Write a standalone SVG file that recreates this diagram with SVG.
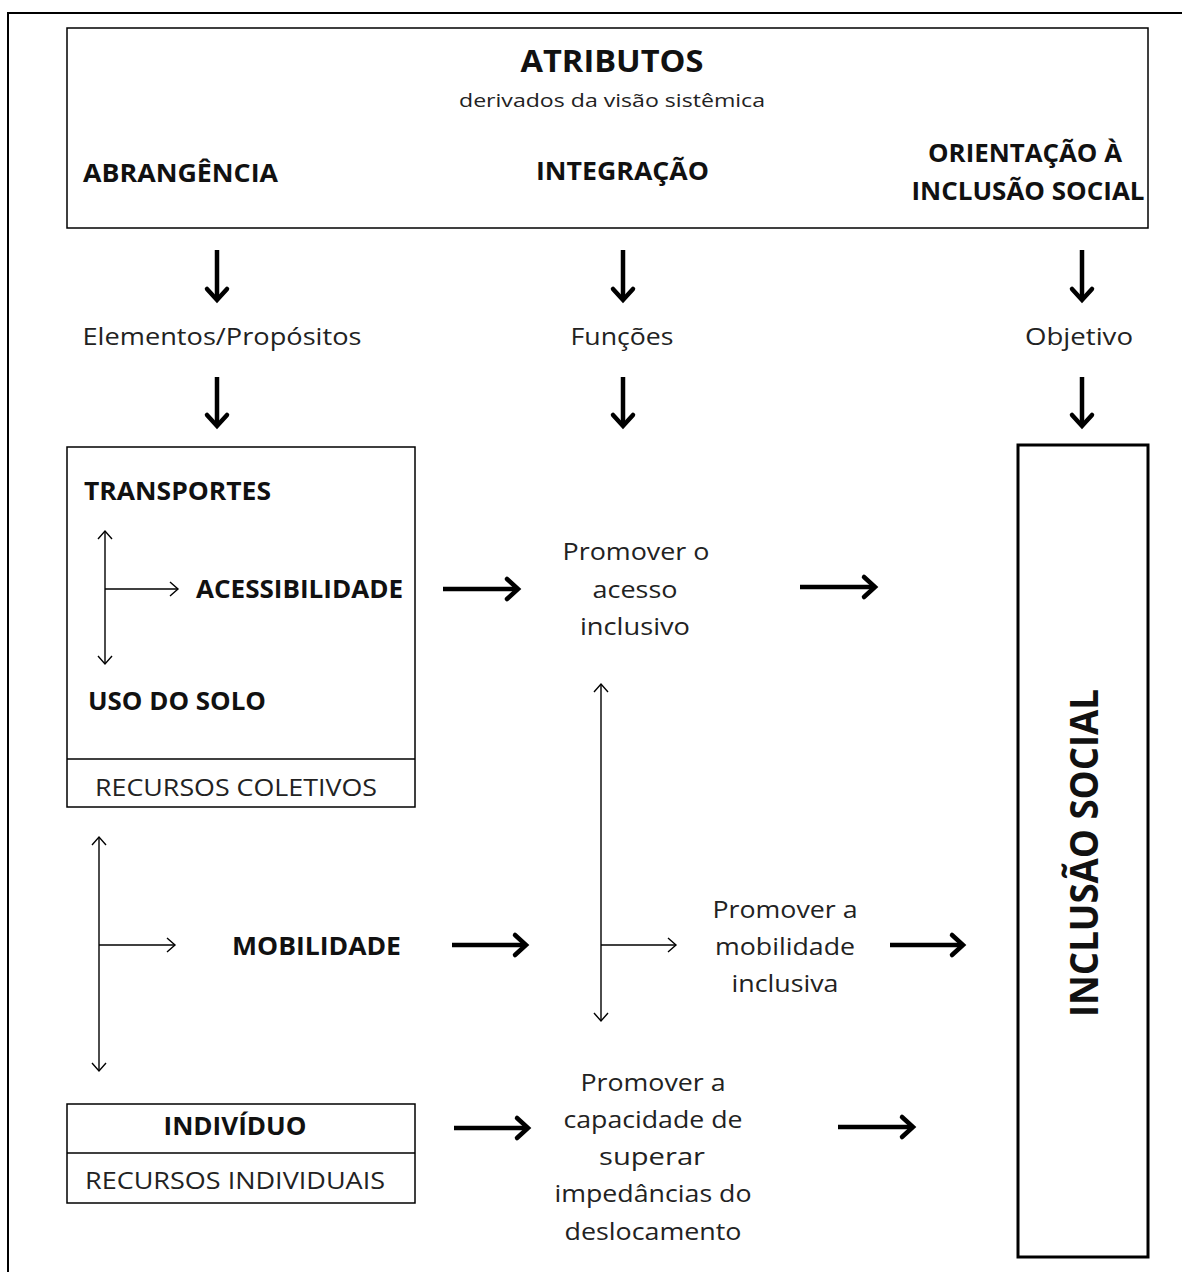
<svg xmlns="http://www.w3.org/2000/svg" width="1182" height="1272" viewBox="0 0 1182 1272">
<style>
.box{fill:#fff;stroke:#000;stroke-width:1.5}
.boxb{fill:#fff;stroke:#000;stroke-width:3}
.b{font-family:"Open Sans","Liberation Sans",sans-serif;font-weight:bold;fill:#111}
.r{font-family:"Open Sans","Liberation Sans",sans-serif;fill:#222}
.thick{stroke:#000;stroke-width:4.5;fill:none}
.thin{stroke:#000;stroke-width:1.4;fill:none}
</style>
<defs>
<marker id="hT" markerUnits="userSpaceOnUse" markerWidth="20" markerHeight="28" refX="14" refY="12" orient="auto" overflow="visible">
<path d="M3,2 L14,12 L3,22" fill="none" stroke="#000" stroke-width="4.5" stroke-linecap="round"/>
</marker>
<marker id="ht" markerUnits="userSpaceOnUse" markerWidth="14" markerHeight="18" refX="9" refY="8" orient="auto-start-reverse" overflow="visible">
<path d="M1,1 L9,8 L1,15" fill="none" stroke="#000" stroke-width="1.4"/>
</marker>
</defs>
<rect x="0" y="0" width="1182" height="1272" fill="#fff"/>
<rect x="8" y="13" width="1190" height="1280" fill="none" stroke="#000" stroke-width="2"/>

<g id="atributos">
<rect class="box" x="67" y="28" width="1081" height="200"/>
<text class="b" x="612" y="72" font-size="31" text-anchor="middle" textLength="183" lengthAdjust="spacingAndGlyphs">ATRIBUTOS</text>
<text class="r" x="612" y="107" font-size="19" text-anchor="middle" textLength="306" lengthAdjust="spacingAndGlyphs">derivados da visão sistêmica</text>
<text class="b" x="83" y="182" font-size="25" textLength="195" lengthAdjust="spacingAndGlyphs">ABRANGÊNCIA</text>
<text class="b" x="536" y="180" font-size="25" textLength="173" lengthAdjust="spacingAndGlyphs">INTEGRAÇÃO</text>
<text class="b" x="1025" y="162" font-size="25" text-anchor="middle" textLength="194" lengthAdjust="spacingAndGlyphs">ORIENTAÇÃO À</text>
<text class="b" x="1028" y="200" font-size="25" text-anchor="middle" textLength="233" lengthAdjust="spacingAndGlyphs">INCLUSÃO SOCIAL</text>
</g>

<g id="label-elementos"><text class="r" x="222" y="345" font-size="24" text-anchor="middle" textLength="279" lengthAdjust="spacingAndGlyphs">Elementos/Propósitos</text></g>
<g id="label-funcoes"><text class="r" x="622" y="345" font-size="24" text-anchor="middle" textLength="103" lengthAdjust="spacingAndGlyphs">Funções</text></g>
<g id="label-objetivo"><text class="r" x="1079" y="345" font-size="24" text-anchor="middle" textLength="108" lengthAdjust="spacingAndGlyphs">Objetivo</text></g>

<g id="recursos-coletivos">
<rect class="box" x="67" y="447" width="348" height="360"/>
<line class="box" x1="67" y1="759" x2="415" y2="759"/>
<text class="b" x="84" y="500" font-size="25" textLength="187" lengthAdjust="spacingAndGlyphs">TRANSPORTES</text>
<text class="b" x="196" y="598" font-size="25" textLength="207" lengthAdjust="spacingAndGlyphs">ACESSIBILIDADE</text>
<text class="b" x="88" y="710" font-size="25" textLength="178" lengthAdjust="spacingAndGlyphs">USO DO SOLO</text>
<text class="r" x="236" y="796" font-size="23" text-anchor="middle" textLength="282" lengthAdjust="spacingAndGlyphs">RECURSOS COLETIVOS</text>
</g>

<g id="promover-acesso">
<text class="r" x="636" y="560" font-size="24" text-anchor="middle" textLength="147" lengthAdjust="spacingAndGlyphs">Promover o</text>
<text class="r" x="635" y="598" font-size="24" text-anchor="middle" textLength="85" lengthAdjust="spacingAndGlyphs">acesso</text>
<text class="r" x="635" y="635" font-size="24" text-anchor="middle" textLength="110" lengthAdjust="spacingAndGlyphs">inclusivo</text>
</g>

<g id="mobilidade"><text class="b" x="232" y="955" font-size="25" textLength="169" lengthAdjust="spacingAndGlyphs">MOBILIDADE</text></g>

<g id="promover-mobilidade">
<text class="r" x="785" y="918" font-size="24" text-anchor="middle" textLength="145" lengthAdjust="spacingAndGlyphs">Promover a</text>
<text class="r" x="785" y="955" font-size="24" text-anchor="middle" textLength="140" lengthAdjust="spacingAndGlyphs">mobilidade</text>
<text class="r" x="785" y="992" font-size="24" text-anchor="middle" textLength="107" lengthAdjust="spacingAndGlyphs">inclusiva</text>
</g>

<g id="individuo">
<rect class="box" x="67" y="1104" width="348" height="99"/>
<line class="box" x1="67" y1="1153" x2="415" y2="1153"/>
<text class="b" x="235" y="1135" font-size="25" text-anchor="middle" textLength="143" lengthAdjust="spacingAndGlyphs">INDIVÍDUO</text>
<text class="r" x="235" y="1189" font-size="23" text-anchor="middle" textLength="300" lengthAdjust="spacingAndGlyphs">RECURSOS INDIVIDUAIS</text>
</g>

<g id="promover-capacidade">
<text class="r" x="653" y="1091" font-size="24" text-anchor="middle" textLength="145" lengthAdjust="spacingAndGlyphs">Promover a</text>
<text class="r" x="653" y="1128" font-size="24" text-anchor="middle" textLength="179" lengthAdjust="spacingAndGlyphs">capacidade de</text>
<text class="r" x="652" y="1165" font-size="24" text-anchor="middle" textLength="106" lengthAdjust="spacingAndGlyphs">superar</text>
<text class="r" x="653" y="1202" font-size="24" text-anchor="middle" textLength="197" lengthAdjust="spacingAndGlyphs">impedâncias do</text>
<text class="r" x="653" y="1240" font-size="24" text-anchor="middle" textLength="177" lengthAdjust="spacingAndGlyphs">deslocamento</text>
</g>

<g id="inclusao-social">
<rect class="boxb" x="1018" y="445" width="130" height="812"/>
<text class="b" transform="translate(1098,853) rotate(-90)" x="0" y="0" font-size="40" text-anchor="middle" textLength="328" lengthAdjust="spacingAndGlyphs">INCLUSÃO SOCIAL</text>
</g>

<g id="connectors">
<line class="thick" x1="217" y1="250" x2="217" y2="300" marker-end="url(#hT)"/>
<line class="thick" x1="623" y1="250" x2="623" y2="300" marker-end="url(#hT)"/>
<line class="thick" x1="1082" y1="250" x2="1082" y2="300" marker-end="url(#hT)"/>
<line class="thick" x1="217" y1="377" x2="217" y2="426" marker-end="url(#hT)"/>
<line class="thick" x1="623" y1="377" x2="623" y2="426" marker-end="url(#hT)"/>
<line class="thick" x1="1082" y1="377" x2="1082" y2="426" marker-end="url(#hT)"/>
<line class="thick" x1="443" y1="589" x2="518" y2="589" marker-end="url(#hT)"/>
<line class="thick" x1="800" y1="587" x2="875" y2="587" marker-end="url(#hT)"/>
<line class="thick" x1="452" y1="945" x2="526" y2="945" marker-end="url(#hT)"/>
<line class="thick" x1="890" y1="945" x2="963" y2="945" marker-end="url(#hT)"/>
<line class="thick" x1="454" y1="1128" x2="528" y2="1128" marker-end="url(#hT)"/>
<line class="thick" x1="838" y1="1127" x2="913" y2="1127" marker-end="url(#hT)"/>
<line class="thin" x1="105" y1="531" x2="105" y2="664" marker-start="url(#ht)" marker-end="url(#ht)"/>
<line class="thin" x1="105" y1="589" x2="178" y2="589" marker-end="url(#ht)"/>
<line class="thin" x1="99" y1="837" x2="99" y2="1071" marker-start="url(#ht)" marker-end="url(#ht)"/>
<line class="thin" x1="99" y1="945" x2="175" y2="945" marker-end="url(#ht)"/>
<line class="thin" x1="601" y1="684" x2="601" y2="1021" marker-start="url(#ht)" marker-end="url(#ht)"/>
<line class="thin" x1="601" y1="945" x2="676" y2="945" marker-end="url(#ht)"/>
</g>
</svg>
